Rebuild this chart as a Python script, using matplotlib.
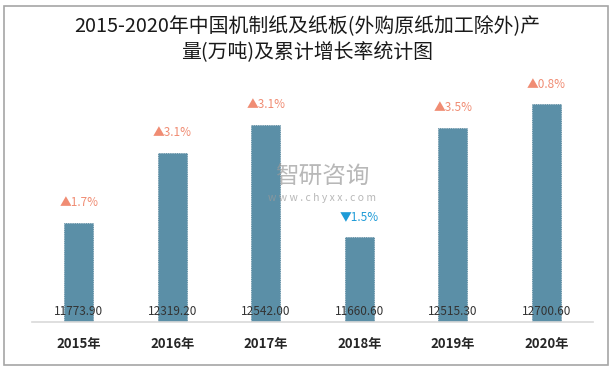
import matplotlib
matplotlib.use("Agg")
import matplotlib.pyplot as plt
from matplotlib.patches import Rectangle

plt.rcParams['font.family'] = ['Noto Sans CJK SC', 'DejaVu Sans']

years = ['2015年', '2016年', '2017年', '2018年', '2019年', '2020年']
output = [11773.90, 12319.20, 12542.00, 11660.60, 12515.30, 12700.60]
growth = [1.7, 3.1, 3.1, -1.5, 3.5, 0.8]
title = '2015-2020年中国机制纸及纸板(外购原纸加工除外)产\n量(万吨)及累计增长率统计图'

fig = plt.figure(figsize=(6.14, 3.69), dpi=100)
fig.patches.append(Rectangle((0.006, 0.01), 0.985, 0.975, transform=fig.transFigure,
                             fill=False, edgecolor='#a6a6a6', linewidth=1.2))

ax = fig.add_axes([0.052, 0.1274, 0.914, 0.683])
x = list(range(len(years)))
bars = ax.bar(x, [v - 11000 for v in output], bottom=11000, width=0.31,
              color='#5B8FA7', edgecolor='#4f7f97', linewidth=0.6, linestyle=':', zorder=2)
ax.set_xlim(-0.5, len(years) - 0.5)
ax.set_ylim(11000, 12970)

for s in ['left', 'right', 'top']:
    ax.spines[s].set_visible(False)
ax.spines['bottom'].set_color('#d9d9d9')
ax.spines['bottom'].set_linewidth(1.2)
ax.set_yticks([])
ax.set_xticks(x)
ax.set_xticklabels(years, fontsize=9.5, fontweight='bold', color='#262626')
ax.tick_params(axis='x', length=0, pad=11)

for xi, v, g in zip(x, output, growth):
    ax.annotate(f'{v:.2f}', (xi, 11000), xytext=(0, 3), textcoords='offset points',
                ha='center', va='bottom', fontsize=8.5, color='#333333', zorder=3)
    if g >= 0:
        txt, col = f'▲{g}%', '#F08C73'
    else:
        txt, col = f'▼{abs(g)}%', '#1E9BD7'
    ax.annotate(txt, (xi, v), xytext=(0, 10), textcoords='offset points',
                ha='center', va='bottom', fontsize=8.5, color=col, zorder=3)

fig.text(0.5, 0.893, title, ha='center', va='center', fontsize=14.3,
         fontweight='normal', color='#1a1a1a', linespacing=1.3)

# watermark
fig.text(0.525, 0.518, '智研咨询', ha='center', va='center', fontsize=17,
         color='#9a9a9a', alpha=0.7, zorder=5)
fig.text(0.525, 0.463, 'w w w . c h y x x . c o m', ha='center', va='center', fontsize=7.5,
         color='#9a9a9a', alpha=0.7, zorder=5)

fig.savefig('out.png', dpi=100)
